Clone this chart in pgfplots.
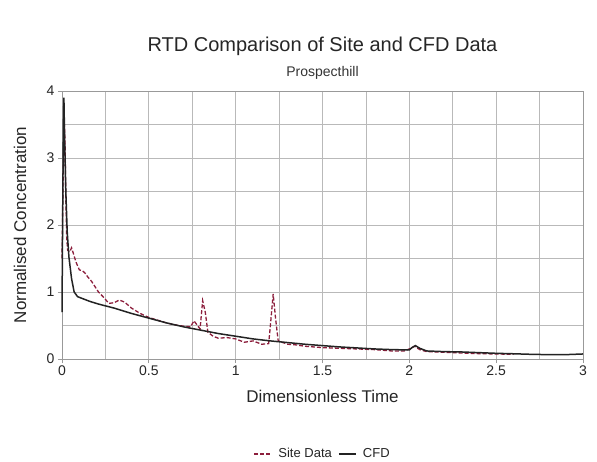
\documentclass[border=0pt]{standalone}
\usepackage{fontspec}
\setmainfont{Liberation Sans}
\usepackage{pgfplots}
\pgfplotsset{compat=1.18}
\definecolor{sitered}{RGB}{140,30,60}
\definecolor{cfdblack}{RGB}{35,35,35}
\definecolor{gridgray}{RGB}{185,185,185}
\begin{document}
\begin{tikzpicture}
\useasboundingbox (-62pt,-102pt) rectangle (535pt,359pt);
\begin{axis}[
  at={(0pt,0pt)}, anchor=south west,
  scale only axis, width=521pt, height=268pt,
  xmin=0, xmax=3, ymin=0, ymax=4,
  clip=false,
  xtick={0,0.5,...,3}, ytick={0,1,2,3,4},
  minor xtick={0.25,0.75,...,2.75}, minor ytick={0.5,1.5,2.5,3.5},
  grid=both,
  major grid style={gridgray, line width=0.7pt},
  minor grid style={gridgray, line width=0.7pt},
  axis line style={gray!80, line width=0.7pt},
  tick style={gray!80, line width=0.7pt},
  minor tick length=0pt, major tick length=4pt,
  tick align=outside, xtick pos=bottom, ytick pos=left,
  /pgf/number format/assume math mode=true,
  ticklabel style={font=\fontsize{14}{16}\selectfont, text=black!85},
  xticklabel style={yshift=1pt},
  xlabel={Dimensionless Time},
  ylabel={Normalised Concentration},
  label style={font=\fontsize{17}{19}\selectfont, text=black!85},
  xlabel style={at={(rel axis cs:0.5,0)}, anchor=center, yshift=-37pt},
  ylabel style={at={(rel axis cs:0,0.5)}, anchor=center, rotate=0, yshift=42pt},
  legend style={at={(0.5,0)}, anchor=center, yshift=-95pt, draw=none,
    font=\fontsize{13}{15}\selectfont, text=black!85, column sep=4pt},
  legend columns=2,
]
\addplot[sitered, line width=1.3pt, dash pattern=on 4pt off 2pt,
  forget plot] coordinates {
(0,1.5)(0.005,2.4)(0.009,3.1)(0.014,3.5)(0.018,3.2)(0.022,2.4)(0.027,1.8)(0.033,1.62)
(0.045,1.6)(0.055,1.66)(0.065,1.58)(0.08,1.45)(0.1,1.33)(0.115,1.32)(0.13,1.29)
(0.15,1.22)(0.17,1.16)(0.19,1.08)(0.21,1.0)(0.24,0.92)(0.27,0.83)(0.3,0.84)
(0.33,0.88)(0.36,0.85)(0.4,0.76)(0.45,0.68)(0.5,0.62)(0.55,0.58)(0.6,0.54)
(0.65,0.51)(0.7,0.49)(0.74,0.48)(0.76,0.57)(0.78,0.5)(0.795,0.45)(0.81,0.87)
(0.825,0.7)(0.84,0.4)(0.87,0.34)(0.9,0.31)(0.95,0.32)(1.0,0.3)(1.05,0.25)
(1.1,0.27)(1.15,0.22)(1.19,0.23)(1.2,0.5)(1.216,0.97)(1.23,0.6)(1.245,0.27)
(1.3,0.22)(1.35,0.21)(1.4,0.19)(1.5,0.17)(1.6,0.16)(1.7,0.15)(1.8,0.14)
(1.9,0.12)(1.97,0.12)(2.0,0.15)(2.03,0.19)(2.06,0.14)(2.1,0.11)(2.2,0.1)
(2.3,0.09)(2.4,0.08)(2.5,0.075)(2.6,0.07)
};
\addlegendimage{sitered, line width=2pt, dash pattern=on 4pt off 2pt}
\addlegendentry{Site Data}
\addplot[cfdblack, line width=1.5pt, forget plot] coordinates {
(0,0.7)(0.004,2.2)(0.008,3.5)(0.011,3.9)(0.015,3.3)(0.022,2.5)(0.03,1.9)
(0.04,1.52)(0.055,1.2)(0.07,1.0)(0.09,0.93)(0.12,0.9)(0.16,0.86)(0.21,0.82)
(0.3,0.76)(0.4,0.68)(0.5,0.61)(0.6,0.54)(0.7,0.48)(0.8,0.43)(0.9,0.38)
(1.0,0.34)(1.1,0.3)(1.2,0.27)(1.3,0.245)(1.4,0.22)(1.5,0.2)(1.6,0.18)
(1.7,0.165)(1.8,0.15)(1.9,0.14)(2.0,0.135)(2.015,0.17)(2.035,0.2)(2.06,0.16)
(2.1,0.12)(2.2,0.11)(2.3,0.105)(2.4,0.095)(2.5,0.085)(2.6,0.078)(2.7,0.07)
(2.8,0.065)(2.9,0.065)(3.0,0.075)
};
\addlegendimage{cfdblack, line width=2pt}
\addlegendentry{CFD}
\node[font=\fontsize{20}{22}\selectfont, text=black!85] at (rel axis cs:0.5,1) [yshift=45pt] {RTD Comparison of Site and CFD Data};
\node[font=\fontsize{14}{16}\selectfont, text=black!80] at (rel axis cs:0.5,1) [yshift=18pt] {Prospecthill};
\end{axis}
\end{tikzpicture}
\end{document}
